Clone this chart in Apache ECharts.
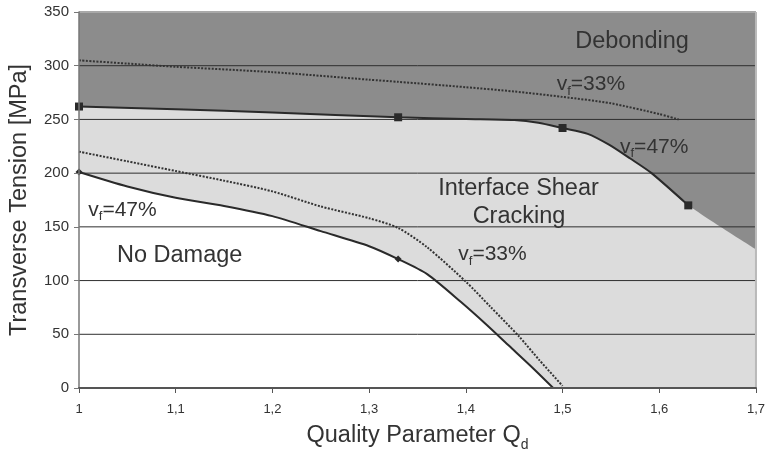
<!DOCTYPE html>
<html><head><meta charset="utf-8">
<script src="https://cdn.jsdelivr.net/npm/echarts@6/dist/echarts.min.js"></script>
<style>html,body{margin:0;padding:0;background:#fff}#c{width:768px;height:457px}</style>
</head><body><div id="c"></div>
<script>
// ---- data ----
const yGridValues = [50, 100, 150, 200, 250, 300];
// Debonding boundary, v_f = 47% (solid, squares)
const upper47Q = [1, 1.1, 1.2, 1.33, 1.4, 1.45, 1.475, 1.5, 1.526, 1.548, 1.57, 1.592, 1.63];
const upper47T = [262, 259.5, 256.5, 252, 250.5, 249.5, 247, 242, 236.6, 226.5, 213.6, 200, 170];
const upper47Markers = [1, 1.33, 1.5, 1.63];
const debondEndQ = [1.7];
const debondEndT = [129];
// Debonding boundary, v_f = 33% (dotted)
const upper33Q = [1, 1.05, 1.1, 1.2, 1.3, 1.33, 1.4, 1.45, 1.5, 1.55, 1.6, 1.62];
const upper33T = [305, 302, 299, 294, 287, 285, 280, 276, 271, 265, 255, 250];
// No-damage boundary, v_f = 47% (solid, diamonds)
const lower47Q = [1, 1.05, 1.1, 1.15, 1.2, 1.25, 1.3, 1.33, 1.36, 1.395, 1.42, 1.445, 1.47, 1.496];
const lower47T = [201, 187.5, 177, 169.5, 160, 146, 132, 120, 106, 80, 60, 39, 18, -5];
const lower47Markers = [1, 1.33];
// No-damage boundary, v_f = 33% (dotted)
const lower33Q = [1, 1.05, 1.1, 1.15, 1.2, 1.25, 1.3, 1.33, 1.36, 1.4, 1.425, 1.455, 1.476, 1.5];
const lower33T = [220, 211, 202, 193, 183, 169, 158, 149, 131, 99, 76, 48, 26, 2];

const FONT = '"Liberation Sans", Arial, sans-serif';
const TXT = '#333333';
const SMOOTH = 0.25;
const zip = (a, b) => a.map((v, i) => [v, b[i]]);
const withMarkers = (q, t, marks, sym, size) => q.map((v, i) => {
  const item = { value: [v, t[i]] };
  if (marks.includes(v)) { item.symbol = sym; item.symbolSize = size; } else { item.symbol = 'none'; }
  return item;
});

const chart = echarts.init(document.getElementById('c'), null, { renderer: 'canvas' });

const series = [];
// light grey region: everything below the debonding boundary
series.push({
  type: 'line', data: zip(upper47Q.concat(debondEndQ), upper47T.concat(debondEndT)),
  symbol: 'none', smooth: SMOOTH, lineStyle: { width: 0, opacity: 0 },
  areaStyle: { color: '#dcdcdc', opacity: 1, origin: 'start' }, z: 1, silent: true
});
// white region: below the no-damage boundary
series.push({
  type: 'line', data: zip(lower47Q, lower47T),
  symbol: 'none', smooth: SMOOTH, lineStyle: { width: 0, opacity: 0 },
  areaStyle: { color: '#ffffff', opacity: 1, origin: 'start' }, z: 2, silent: true
});
// grid lines drawn over the regions
yGridValues.forEach(v => series.push({
  type: 'line', data: [[1, v], [1.7, v]], symbol: 'none',
  lineStyle: { color: '#2e2e2e', width: 1 }, z: 3, silent: true
}));
// plot border (top and right)
series.push({ type: 'line', data: [[1, 350], [1.7, 350]], symbol: 'none', lineStyle: { color: '#a9a9a9', width: 2 }, z: 3, silent: true });
series.push({ type: 'line', data: [[1.7, 0], [1.7, 350]], symbol: 'none', lineStyle: { color: '#b9b9b9', width: 2 }, z: 3, silent: true });
// curves
series.push({
  type: 'line', data: withMarkers(upper47Q, upper47T, upper47Markers, 'rect', 8), smooth: SMOOTH,
  lineStyle: { color: '#2a2a2a', width: 2 }, itemStyle: { color: '#2a2a2a' }, z: 5
});
series.push({
  type: 'line', data: zip(upper33Q, upper33T), symbol: 'none', smooth: SMOOTH,
  lineStyle: { color: '#333', width: 2, type: [2, 1.5] }, z: 5
});
series.push({
  type: 'line', data: withMarkers(lower47Q, lower47T, lower47Markers, 'diamond', 7), smooth: SMOOTH,
  lineStyle: { color: '#2a2a2a', width: 2 }, itemStyle: { color: '#2a2a2a' }, z: 5
});
series.push({
  type: 'line', data: zip(lower33Q, lower33T), symbol: 'none', smooth: SMOOTH,
  lineStyle: { color: '#333', width: 2, type: [2, 1.5] }, z: 5
});

const big = (text, x, y) => ({
  type: 'text', z: 20, silent: true,
  style: { x, y, text, fontSize: 23.5, fontFamily: FONT, fill: '#333', align: 'center', verticalAlign: 'middle' }
});
const vf = (pct, x, y) => ({
  type: 'text', z: 20, silent: true,
  style: {
    x, y, text: '{m|v}{s|f}{m|=' + pct + '%}', align: 'left', verticalAlign: 'middle',
    rich: {
      m: { fontSize: 21, lineHeight: 27, fontFamily: FONT, fill: '#333' },
      s: { fontSize: 13, lineHeight: 13, fontFamily: FONT, fill: '#333', verticalAlign: 'bottom' }
    }
  }
});

chart.setOption({
  animation: false,
  textStyle: { fontFamily: FONT },
  grid: { left: 79, right: 8, top: 12, bottom: 65, show: true, backgroundColor: '#8c8c8c', borderWidth: 0 },
  xAxis: {
    type: 'value', min: 1, max: 1.7, interval: 0.1, z: 10,
    axisLine: { show: true, onZero: false, lineStyle: { color: '#555', width: 2 } },
    axisTick: { show: true, length: 5, lineStyle: { color: '#555' } },
    splitLine: { show: false },
    axisLabel: { fontSize: 13, color: TXT, margin: 15,
      formatter: v => String(Math.round(v * 10) / 10).replace('.', ',') },
    name: '{m|Quality Parameter Q}{s|d}', nameLocation: 'middle', nameGap: 32,
    nameTextStyle: { rich: {
      m: { fontSize: 23.5, lineHeight: 32, color: TXT, fontFamily: FONT },
      s: { fontSize: 14, lineHeight: 14, color: TXT, fontFamily: FONT, verticalAlign: 'bottom' }
    } }
  },
  yAxis: {
    type: 'value', min: 0, max: 350, interval: 50, z: 10,
    axisLine: { show: true, lineStyle: { color: '#777', width: 1.5 } },
    axisTick: { show: true, length: 5, lineStyle: { color: '#777' } },
    splitLine: { show: false },
    axisLabel: { fontSize: 15, color: TXT, margin: 10 },
    name: 'Transverse Tension [MPa]', nameLocation: 'middle', nameGap: 47,
    nameTextStyle: { fontSize: 23.5, color: TXT, fontFamily: FONT }
  },
  series,
  graphic: [
    big('Debonding', 632, 41.6),
    big('Interface Shear', 518.5, 188.3),
    big('Cracking', 519, 216.6),
    big('No Damage', 179.7, 255.6),
    vf(33, 556.7, 84.5),
    vf(47, 620, 146.8),
    vf(47, 88.3, 209.8),
    vf(33, 458.3, 254.2)
  ]
});
</script></body></html>
